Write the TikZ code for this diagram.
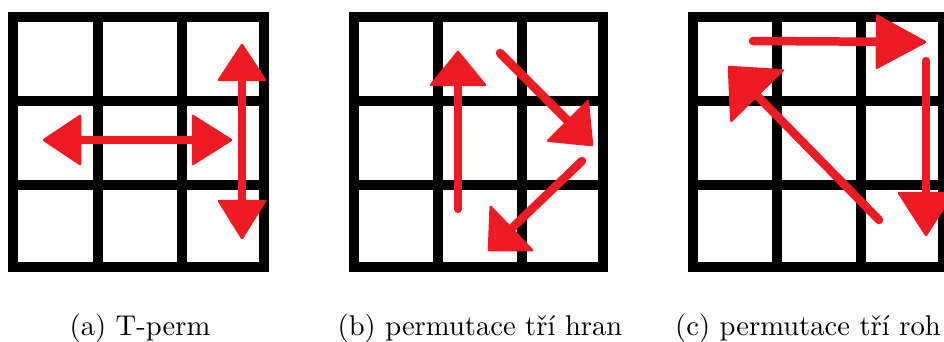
\documentclass[tikz,border=0pt]{standalone}
\usetikzlibrary{calc}
\definecolor{arrred}{RGB}{237,28,36}
\tikzset{
  gridline/.style={line width=10pt, black},
  shaft/.style={arrred, line width=8.5pt, line cap=round},
  head/.style={fill=arrred, draw=arrred, line width=2.5pt, line join=round},
  caption/.style={anchor=base, inner sep=0pt}
}
\newcommand{\onehead}[4]{% tip, from, length, halfwidth
  \coordinate (hb) at ($(#1)!#3!(#2)$);
  \filldraw[head] (#1) -- ($(hb)!#4!90:(#1)$) -- ($(hb)!#4!-90:(#1)$) -- cycle;
}
\newcommand{\singlearrow}[4]{% start, tip, length, halfwidth
  \draw[shaft] (#1) -- ($(#2)!#3!(#1)$);
  \onehead{#2}{#1}{#3}{#4}
}
\newcommand{\doublearrow}[5]{% tip1, tip2, len1, len2, halfwidth
  \draw[shaft] ($(#1)!#3!(#2)$) -- ($(#2)!#4!(#1)$);
  \onehead{#1}{#2}{#3}{#5}
  \onehead{#2}{#1}{#4}{#5}
}
\begin{document}
\begin{tikzpicture}[x=1pt,y=-1pt]
\useasboundingbox (0,0) rectangle (944,342);
\clip (0,0) rectangle (944,342);
\fill[white] (0,0) rectangle (944,342);
% grid a
\foreach \x in {13,98,182,264} \draw[gridline] (\x,12) -- (\x,272);
\foreach \y in {17,101,185,267} \draw[gridline] (8,\y) -- (269,\y);
% grid b
\foreach \x in {354,438,522,603} \draw[gridline] (\x,12) -- (\x,272);
\foreach \y in {17,101,185,267} \draw[gridline] (349,\y) -- (608,\y);
% grid c
\foreach \x in {693,777,861,943} \draw[gridline] (\x,12) -- (\x,272);
\foreach \y in {17,101,185,267} \draw[gridline] (688,\y) -- (948,\y);
% arrows a
\coordinate (a1) at (44,140);
\coordinate (a2) at (231,140);
\doublearrow{a1}{a2}{36pt}{38pt}{24pt}
\coordinate (a3) at (242,45);
\coordinate (a4) at (242,238);
\doublearrow{a3}{a4}{35pt}{37pt}{23pt}
% arrows b
\coordinate (b1) at (458,209);
\coordinate (b2) at (458,52);
\singlearrow{b1}{b2}{33pt}{27pt}
\coordinate (b3) at (500,53);
\coordinate (b4) at (592,145);
\singlearrow{b3}{b4}{34pt}{28pt}
\coordinate (b5) at (582,161);
\coordinate (b6) at (489,250);
\singlearrow{b5}{b6}{31pt}{30pt}
% arrows c
\coordinate (c1) at (753,41);
\coordinate (c2) at (925,42);
\singlearrow{c1}{c2}{48pt}{26pt}
\coordinate (c3) at (926,61);
\coordinate (c4) at (926,235);
\singlearrow{c3}{c4}{42pt}{27pt}
\coordinate (c5) at (879,220);
\coordinate (c6) at (729,67);
\singlearrow{c5}{c6}{40pt}{36pt}
% captions
\node[caption] (capa) at (140,335) {\scalebox{2.86}{(a) T-perm}};
\node[caption] (capb) at (480,335) {\scalebox{2.86}{(b) permutace tří hran}};
\node[caption, anchor=base west] (capc) at (675,335) {\scalebox{2.86}{(c) permutace tří roh}};
\end{tikzpicture}
\end{document}
